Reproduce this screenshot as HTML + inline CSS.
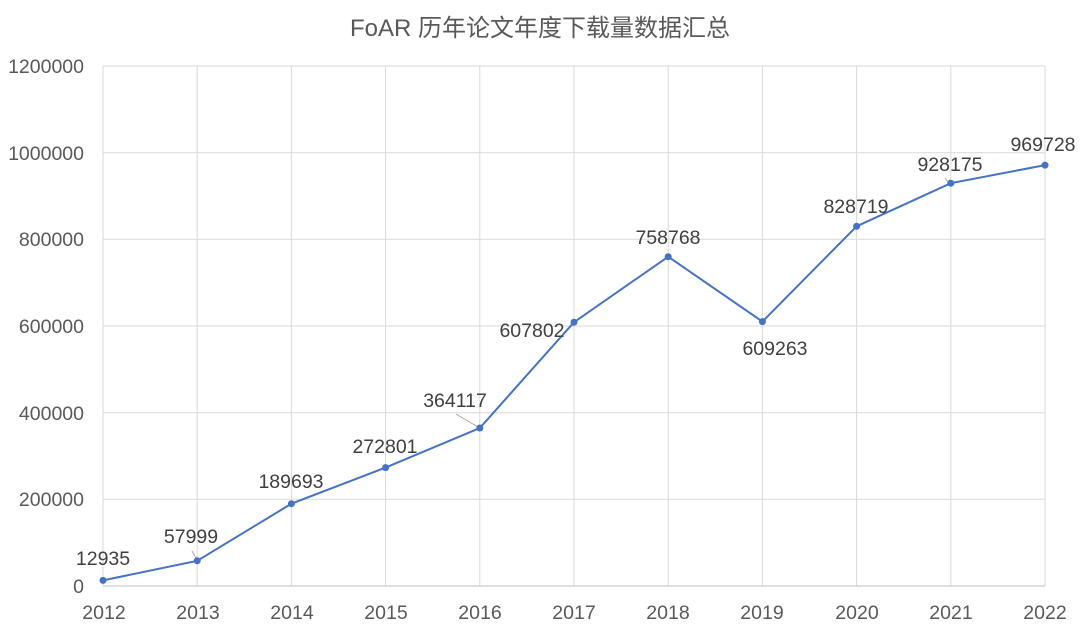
<!DOCTYPE html>
<html><head><meta charset="utf-8"><style>body{margin:0;background:#fff}svg{display:block}</style></head><body>
<svg width="1080" height="634" xmlns="http://www.w3.org/2000/svg" font-family="Liberation Sans, Noto Sans CJK SC, sans-serif" fill="#595959">
<rect width="1080" height="634" fill="#fff"/>
<text x="540" y="36" text-anchor="middle" font-size="24" fill="#595959" font-family="Liberation Sans, Noto Sans CJK SC, sans-serif">FoAR 历年论文年度下载量数据汇总</text>
<g stroke="#d9d9d9" stroke-width="1">
<line x1="103" y1="66" x2="1045" y2="66"/><line x1="103" y1="152.7" x2="1045" y2="152.7"/><line x1="103" y1="239.3" x2="1045" y2="239.3"/><line x1="103" y1="326" x2="1045" y2="326"/><line x1="103" y1="412.7" x2="1045" y2="412.7"/><line x1="103" y1="499.3" x2="1045" y2="499.3"/>
<line x1="103" y1="66" x2="103" y2="586"/><line x1="197.2" y1="66" x2="197.2" y2="586"/><line x1="291.4" y1="66" x2="291.4" y2="586"/><line x1="385.6" y1="66" x2="385.6" y2="586"/><line x1="479.8" y1="66" x2="479.8" y2="586"/><line x1="574" y1="66" x2="574" y2="586"/><line x1="668.2" y1="66" x2="668.2" y2="586"/><line x1="762.4" y1="66" x2="762.4" y2="586"/><line x1="856.6" y1="66" x2="856.6" y2="586"/><line x1="950.8" y1="66" x2="950.8" y2="586"/><line x1="1045" y1="66" x2="1045" y2="586"/>
<line x1="103" y1="586" x2="1045" y2="586" stroke="#bfbfbf"/>
</g>
<g font-size="19.5" text-anchor="end">
<text x="84" y="73">1200000</text><text x="84" y="160">1000000</text><text x="84" y="246">800000</text><text x="84" y="333">600000</text><text x="84" y="420">400000</text><text x="84" y="506">200000</text><text x="84" y="593">0</text>
</g>
<g font-size="19.5" text-anchor="middle">
<text x="104" y="619">2012</text><text x="198" y="619">2013</text><text x="292" y="619">2014</text><text x="386" y="619">2015</text><text x="480" y="619">2016</text><text x="574" y="619">2017</text><text x="668" y="619">2018</text><text x="762" y="619">2019</text><text x="857" y="619">2020</text><text x="951" y="619">2021</text><text x="1045" y="619">2022</text>
</g>
<g stroke="#a6a6a6" stroke-width="1">
<line x1="192" y1="551" x2="197" y2="560"/><line x1="456" y1="414" x2="478" y2="427"/><line x1="945" y1="178" x2="949" y2="183"/>
</g>
<polyline fill="none" stroke="#4472c4" stroke-width="2" points="103,580.4 197.2,560.8 291.4,503.7 385.6,467.6 479.8,428 574,322.2 668.2,256.7 762.4,321.6 856.6,226.3 950.8,183.2 1045,165.1"/>
<g fill="#4472c4">
<circle cx="103" cy="580.4" r="3.5"/><circle cx="197.2" cy="560.8" r="3.5"/><circle cx="291.4" cy="503.7" r="3.5"/><circle cx="385.6" cy="467.6" r="3.5"/><circle cx="479.8" cy="428" r="3.5"/><circle cx="574" cy="322.2" r="3.5"/><circle cx="668.2" cy="256.7" r="3.5"/><circle cx="762.4" cy="321.6" r="3.5"/><circle cx="856.6" cy="226.3" r="3.5"/><circle cx="950.8" cy="183.2" r="3.5"/><circle cx="1045" cy="165.1" r="3.5"/>
</g>
<g font-size="19.5" text-anchor="middle" fill="#404040">
<text x="103" y="565">12935</text><text x="191" y="543">57999</text><text x="291" y="488">189693</text><text x="385" y="453">272801</text><text x="455" y="407">364117</text><text x="532" y="337">607802</text><text x="668" y="244">758768</text><text x="775" y="355">609263</text><text x="856" y="213">828719</text><text x="950" y="171">928175</text><text x="1043" y="151">969728</text>
</g>
</svg>
</body></html>
